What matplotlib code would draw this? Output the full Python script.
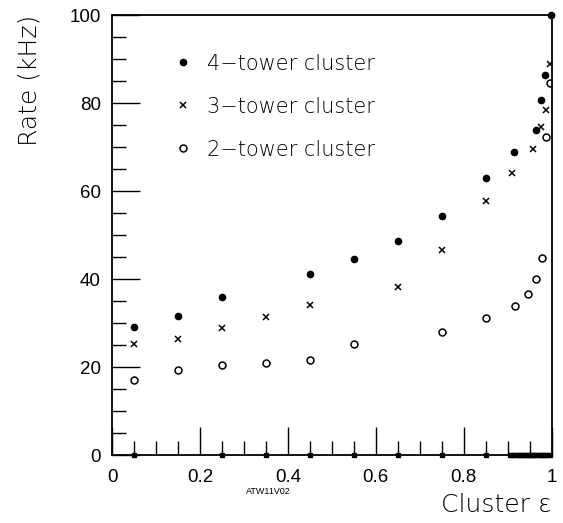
import matplotlib.pyplot as plt
from matplotlib.ticker import MultipleLocator

# cluster efficiency cut vs trigger rate
eps_4 = [0.05, 0.15, 0.25, 0.45, 0.55, 0.65, 0.75, 0.85, 0.915, 0.965, 0.975, 0.985, 0.999]
rate_4 = [29.1, 31.6, 35.9, 41.1, 44.6, 48.6, 54.3, 63.0, 68.9, 73.9, 80.7, 86.3, 100.0]

eps_3 = [0.05, 0.15, 0.25, 0.35, 0.45, 0.65, 0.75, 0.85, 0.91, 0.957, 0.976, 0.986, 0.995]
rate_3 = [25.2, 26.4, 28.9, 31.4, 34.2, 38.2, 46.6, 57.7, 64.1, 69.5, 74.5, 78.5, 88.9]

eps_2 = [0.05, 0.15, 0.25, 0.35, 0.45, 0.55, 0.75, 0.85, 0.916, 0.945, 0.965, 0.977, 0.986, 0.995]
rate_2 = [17.0, 19.3, 20.5, 21.0, 21.7, 25.2, 28.0, 31.1, 33.9, 36.6, 40.1, 44.7, 72.3, 84.5]

# empty bins sitting on the axis
eps_0 = [0.05, 0.25, 0.35, 0.45, 0.55, 0.65, 0.75, 0.85,
         0.905, 0.91, 0.915, 0.92, 0.925, 0.93, 0.935, 0.94, 0.945, 0.95,
         0.955, 0.96, 0.965, 0.97, 0.975, 0.98, 0.985, 0.99, 0.995]
rate_0 = [0.0] * len(eps_0)

plt.rcParams["font.family"] = ["Liberation Sans", "DejaVu Sans"]
thin = {"family": "DejaVu Sans", "weight": "light"}

fig = plt.figure(figsize=(5.63, 5.23), dpi=100)
ax = fig.add_axes([0.199, 0.130, 0.781, 0.841])

ax.plot(eps_4, rate_4, "o", color="black", ms=4.5, label="4\u2212tower cluster", clip_on=False)
ax.plot(eps_3, rate_3, "x", color="black", ms=5, mew=1.1, label="3\u2212tower cluster")
ax.plot(eps_2, rate_2, "o", mfc="white", mec="black", ms=5, mew=1.1, label="2\u2212tower cluster")
ax.plot(eps_0, rate_0, "s", color="black", ms=2.5, clip_on=False)

ax.set_xlim(0, 1)
ax.set_ylim(0, 100)
ax.xaxis.set_major_locator(MultipleLocator(0.2))
ax.xaxis.set_minor_locator(MultipleLocator(0.05))
ax.yaxis.set_major_locator(MultipleLocator(20))
ax.yaxis.set_minor_locator(MultipleLocator(5))
ax.xaxis.set_major_formatter(plt.FuncFormatter(lambda v, p: "%g" % round(v, 2)))
ax.tick_params(which="both", direction="in", top=False, right=False, width=1, labelsize=13.5)
ax.tick_params(which="major", length=20, pad=8)
ax.tick_params(which="minor", length=10)
ax.tick_params(axis="x", pad=10)
for s in ax.spines.values():
    s.set_linewidth(1.3)

ax.set_ylabel("Rate (kHz)", loc="top", fontsize=18, labelpad=20, **thin)
ax.set_xlabel("Cluster \u03b5", loc="right", fontsize=18, labelpad=5, **thin)

leg = ax.legend(loc="upper left", bbox_to_anchor=(0.09, 0.955), frameon=False,
                handletextpad=0.55, labelspacing=1.1, handlelength=1.2,
                prop={"family": "DejaVu Sans", "weight": "light", "size": 15})

fig.text(0.476, 0.060, "ATW11V02", fontsize=6.5, ha="center", va="center")

fig.savefig("out.png", dpi=100)
